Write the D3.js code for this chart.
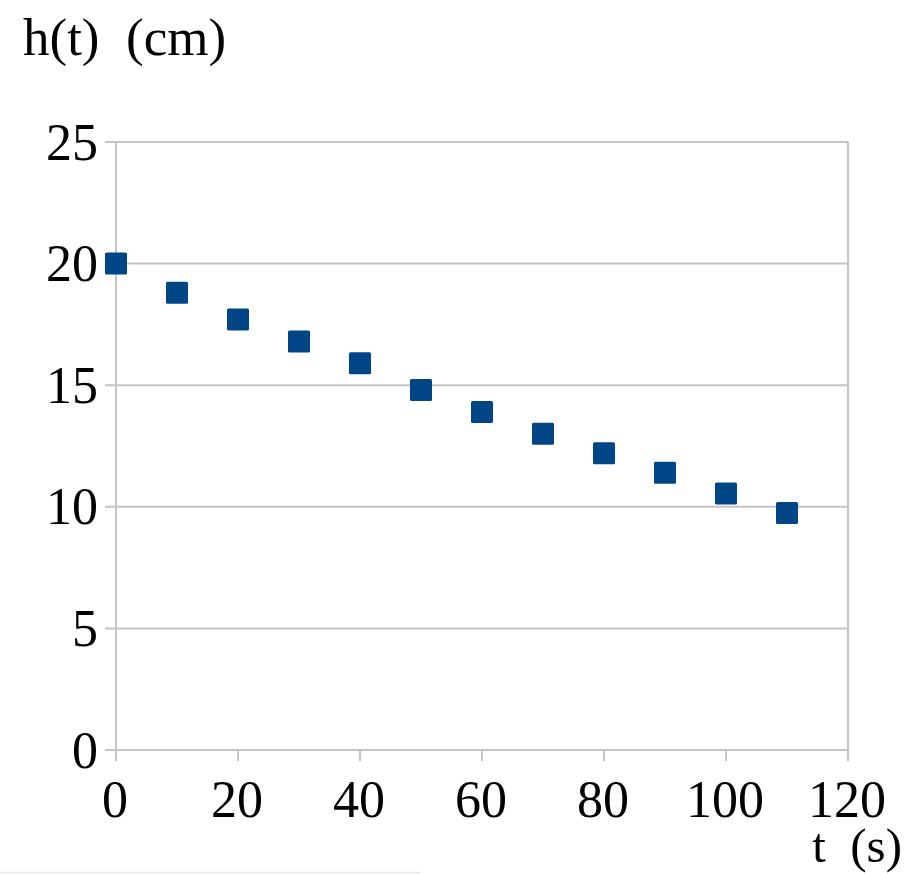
<!DOCTYPE html>
<html><head><meta charset="utf-8">
<script src="https://cdn.jsdelivr.net/npm/d3@7/dist/d3.min.js"></script>
<style>body{margin:0;background:#fff}svg{display:block}</style>
</head><body>
<script>
const times = [0,10,20,30,40,50,60,70,80,90,100,110];
const heights = [20,18.8,17.7,16.8,15.9,14.8,13.9,13.0,12.2,11.4,10.55,9.75];
const xTicks = [0,20,40,60,80,100,120];
const yTicks = [0,5,10,15,20,25];
const yTitle = "h(t)  (cm)";
const xTitle = "t  (s)";

const W=906,H=874;
const m={left:116,right:58,top:142,bottom:124};
const svg=d3.select("body").append("svg").attr("width",W).attr("height",H);
const x=d3.scaleLinear().domain([0,120]).range([m.left,W-m.right]);
const y=d3.scaleLinear().domain([0,25]).range([H-m.bottom,m.top]);
const font="'Liberation Serif','Times New Roman',serif";
const grid="#c4c4c4";

// horizontal grid lines (extend left as ticks)
svg.append("g").selectAll("line").data(yTicks).join("line")
  .attr("x1",x(0)-11).attr("x2",x(120)).attr("y1",d=>y(d)).attr("y2",d=>y(d))
  .attr("stroke",grid).attr("stroke-width",2);
// vertical axis lines
svg.append("line").attr("x1",x(0)).attr("x2",x(0)).attr("y1",y(25)).attr("y2",y(0)+11)
  .attr("stroke",grid).attr("stroke-width",2);
svg.append("line").attr("x1",x(120)).attr("x2",x(120)).attr("y1",y(25)).attr("y2",y(0)+11)
  .attr("stroke",grid).attr("stroke-width",2);
// x ticks
svg.append("g").selectAll("line").data(xTicks).join("line")
  .attr("x1",d=>x(d)).attr("x2",d=>x(d)).attr("y1",y(0)).attr("y2",y(0)+11)
  .attr("stroke",grid).attr("stroke-width",2);

// tick labels
svg.append("g").selectAll("text").data(yTicks).join("text")
  .attr("x",x(0)-18).attr("y",d=>y(d)).attr("dy","0.34em")
  .attr("text-anchor","end").attr("font-family",font).attr("font-size",52).attr("fill","#000")
  .text(d=>d);
svg.append("g").selectAll("text").data(xTicks).join("text")
  .attr("x",d=>x(d)-1).attr("y",y(0)+67)
  .attr("text-anchor","middle").attr("font-family",font).attr("font-size",52).attr("fill","#000")
  .text(d=>d);

// titles
svg.append("text").attr("x",23).attr("y",55).attr("font-family",font).attr("font-size",53)
  .style("white-space","pre").text(yTitle);
svg.append("text").attr("x",902).attr("y",862).attr("text-anchor","end").attr("font-family",font).attr("font-size",49)
  .style("white-space","pre").text(xTitle);

// points
const s=22;
svg.append("g").selectAll("rect").data(times.map((t,i)=>({t,h:heights[i]}))).join("rect")
  .attr("x",d=>x(d.t)-s/2).attr("y",d=>y(d.h)-s/2).attr("width",s).attr("height",s)
  .attr("rx",1.5).attr("fill","#004586");

// faint bottom border line
svg.append("line").attr("x1",0).attr("x2",420).attr("y1",872.5).attr("y2",872.5)
  .attr("stroke","#e6e6e6").attr("stroke-width",1.5);
</script>
</body></html>
